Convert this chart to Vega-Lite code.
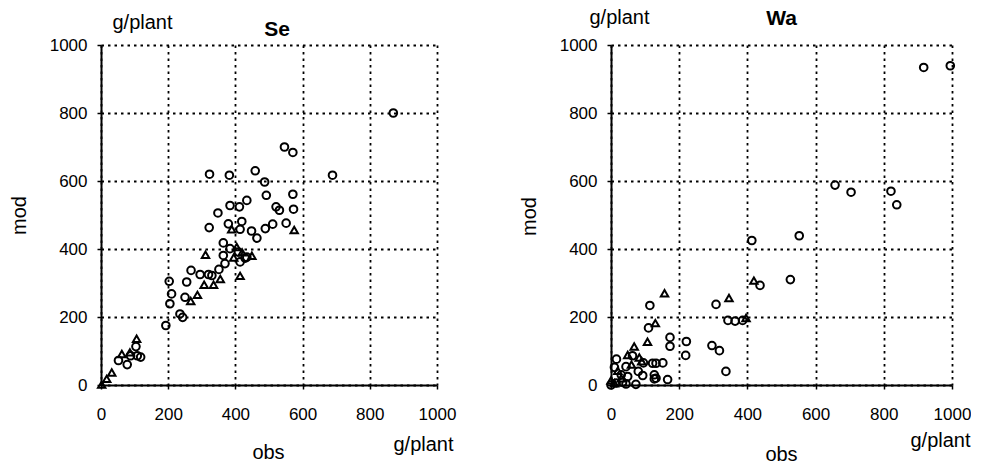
{
  "$schema": "https://vega.github.io/schema/vega-lite/v6.json",
  "padding": {"left": 9, "top": 7, "right": 0, "bottom": 0},
  "background": "white",
  "config": {
    "view": {"stroke": null},
    "font": "Liberation Sans",
    "axis": {
      "labelFont": "Liberation Sans", "labelFontSize": 17, "labelColor": "black",
      "labelFlush": false, "labelOverlap": false, "format": "d",
      "titleFont": "Liberation Sans", "titleFontSize": 20, "titleFontWeight": "normal", "titleColor": "black",
      "domainColor": "black", "domainWidth": 2,
      "tickColor": "black", "tickWidth": 1.5, "tickSize": 4,
      "gridColor": "black", "gridOpacity": 1, "gridWidth": 1.8, "gridDash": [2.5, 4]
    }
  },
  "datasets": {
    "pts": [
      {"panel":"Se","type":"c","obs":870,"mod":800},{"panel":"Se","type":"c","obs":546,"mod":700},{"panel":"Se","type":"c","obs":571,"mod":684},
      {"panel":"Se","type":"c","obs":323,"mod":620},{"panel":"Se","type":"c","obs":382,"mod":617},{"panel":"Se","type":"c","obs":459,"mod":630},
      {"panel":"Se","type":"c","obs":487,"mod":597},{"panel":"Se","type":"c","obs":689,"mod":617},{"panel":"Se","type":"c","obs":492,"mod":558},
      {"panel":"Se","type":"c","obs":571,"mod":561},{"panel":"Se","type":"c","obs":348,"mod":506},{"panel":"Se","type":"c","obs":384,"mod":528},
      {"panel":"Se","type":"c","obs":412,"mod":524},{"panel":"Se","type":"c","obs":434,"mod":543},{"panel":"Se","type":"c","obs":521,"mod":524},
      {"panel":"Se","type":"c","obs":531,"mod":514},{"panel":"Se","type":"c","obs":573,"mod":517},{"panel":"Se","type":"c","obs":322,"mod":463},
      {"panel":"Se","type":"c","obs":379,"mod":474},{"panel":"Se","type":"c","obs":419,"mod":481},{"panel":"Se","type":"c","obs":414,"mod":458},
      {"panel":"Se","type":"c","obs":448,"mod":453},{"panel":"Se","type":"c","obs":464,"mod":432},{"panel":"Se","type":"c","obs":489,"mod":460},
      {"panel":"Se","type":"c","obs":511,"mod":473},{"panel":"Se","type":"c","obs":551,"mod":476},{"panel":"Se","type":"c","obs":364,"mod":418},
      {"panel":"Se","type":"c","obs":384,"mod":401},{"panel":"Se","type":"c","obs":364,"mod":381},{"panel":"Se","type":"c","obs":409,"mod":391},
      {"panel":"Se","type":"c","obs":434,"mod":376},{"panel":"Se","type":"c","obs":414,"mod":362},{"panel":"Se","type":"c","obs":369,"mod":357},
      {"panel":"Se","type":"c","obs":351,"mod":340},{"panel":"Se","type":"c","obs":268,"mod":337},{"panel":"Se","type":"c","obs":295,"mod":325},
      {"panel":"Se","type":"c","obs":320,"mod":325},{"panel":"Se","type":"c","obs":330,"mod":322},{"panel":"Se","type":"c","obs":203,"mod":305},
      {"panel":"Se","type":"c","obs":210,"mod":268},{"panel":"Se","type":"c","obs":205,"mod":239},{"panel":"Se","type":"c","obs":255,"mod":303},
      {"panel":"Se","type":"c","obs":250,"mod":258},{"panel":"Se","type":"c","obs":235,"mod":209},{"panel":"Se","type":"c","obs":243,"mod":199},
      {"panel":"Se","type":"c","obs":193,"mod":175},{"panel":"Se","type":"c","obs":104,"mod":113},{"panel":"Se","type":"c","obs":108,"mod":86},
      {"panel":"Se","type":"c","obs":118,"mod":82},{"panel":"Se","type":"c","obs":78,"mod":60},{"panel":"Se","type":"c","obs":88,"mod":86},
      {"panel":"Se","type":"c","obs":52,"mod":72},{"panel":"Se","type":"c","obs":429,"mod":373},
      {"panel":"Se","type":"t","obs":575,"mod":456},{"panel":"Se","type":"t","obs":311,"mod":383},{"panel":"Se","type":"t","obs":389,"mod":458},
      {"panel":"Se","type":"t","obs":414,"mod":321},{"panel":"Se","type":"t","obs":449,"mod":380},{"panel":"Se","type":"t","obs":404,"mod":406},
      {"panel":"Se","type":"t","obs":287,"mod":265},{"panel":"Se","type":"t","obs":267,"mod":247},{"panel":"Se","type":"t","obs":307,"mod":295},
      {"panel":"Se","type":"t","obs":335,"mod":295},{"panel":"Se","type":"t","obs":355,"mod":312},{"panel":"Se","type":"t","obs":420,"mod":390},
      {"panel":"Se","type":"t","obs":395,"mod":375},{"panel":"Se","type":"t","obs":106,"mod":136},{"panel":"Se","type":"t","obs":62,"mod":91},
      {"panel":"Se","type":"t","obs":86,"mod":96},{"panel":"Se","type":"t","obs":32,"mod":37},{"panel":"Se","type":"t","obs":17,"mod":18},
      {"panel":"Se","type":"t","obs":2,"mod":1},
      {"panel":"Wa","type":"c","obs":917,"mod":934},{"panel":"Wa","type":"c","obs":995,"mod":939},{"panel":"Wa","type":"c","obs":657,"mod":588},
      {"panel":"Wa","type":"c","obs":704,"mod":567},{"panel":"Wa","type":"c","obs":821,"mod":570},{"panel":"Wa","type":"c","obs":838,"mod":530},
      {"panel":"Wa","type":"c","obs":413,"mod":425},{"panel":"Wa","type":"c","obs":552,"mod":439},{"panel":"Wa","type":"c","obs":526,"mod":310},
      {"panel":"Wa","type":"c","obs":437,"mod":293},{"panel":"Wa","type":"c","obs":308,"mod":237},{"panel":"Wa","type":"c","obs":343,"mod":190},
      {"panel":"Wa","type":"c","obs":364,"mod":188},{"panel":"Wa","type":"c","obs":386,"mod":190},{"panel":"Wa","type":"c","obs":114,"mod":234},
      {"panel":"Wa","type":"c","obs":110,"mod":168},{"panel":"Wa","type":"c","obs":173,"mod":140},{"panel":"Wa","type":"c","obs":173,"mod":114},
      {"panel":"Wa","type":"c","obs":221,"mod":128},{"panel":"Wa","type":"c","obs":219,"mod":87},{"panel":"Wa","type":"c","obs":296,"mod":116},
      {"panel":"Wa","type":"c","obs":318,"mod":101},{"panel":"Wa","type":"c","obs":337,"mod":40},{"panel":"Wa","type":"c","obs":166,"mod":16},
      {"panel":"Wa","type":"c","obs":132,"mod":20},{"panel":"Wa","type":"c","obs":152,"mod":65},{"panel":"Wa","type":"c","obs":132,"mod":64},
      {"panel":"Wa","type":"c","obs":95,"mod":65},{"panel":"Wa","type":"c","obs":93,"mod":28},{"panel":"Wa","type":"c","obs":49,"mod":25},
      {"panel":"Wa","type":"c","obs":16,"mod":76},{"panel":"Wa","type":"c","obs":44,"mod":3},{"panel":"Wa","type":"c","obs":0,"mod":0},
      {"panel":"Wa","type":"c","obs":63,"mod":86},{"panel":"Wa","type":"c","obs":122,"mod":64},{"panel":"Wa","type":"c","obs":10,"mod":52},
      {"panel":"Wa","type":"c","obs":44,"mod":54},{"panel":"Wa","type":"c","obs":127,"mod":30},{"panel":"Wa","type":"c","obs":15,"mod":6},
      {"panel":"Wa","type":"c","obs":73,"mod":2},{"panel":"Wa","type":"c","obs":34,"mod":8},{"panel":"Wa","type":"c","obs":127,"mod":18},
      {"panel":"Wa","type":"c","obs":80,"mod":40},{"panel":"Wa","type":"c","obs":30,"mod":30},
      {"panel":"Wa","type":"t","obs":157,"mod":270},{"panel":"Wa","type":"t","obs":346,"mod":256},{"panel":"Wa","type":"t","obs":419,"mod":307},
      {"panel":"Wa","type":"t","obs":130,"mod":182},{"panel":"Wa","type":"t","obs":107,"mod":127},{"panel":"Wa","type":"t","obs":68,"mod":113},
      {"panel":"Wa","type":"t","obs":49,"mod":88},{"panel":"Wa","type":"t","obs":83,"mod":81},{"panel":"Wa","type":"t","obs":20,"mod":42},
      {"panel":"Wa","type":"t","obs":0,"mod":13},{"panel":"Wa","type":"t","obs":396,"mod":197},{"panel":"Wa","type":"t","obs":60,"mod":60},
      {"panel":"Wa","type":"t","obs":30,"mod":20},{"panel":"Wa","type":"t","obs":10,"mod":5},{"panel":"Wa","type":"t","obs":90,"mod":70}
    ]
  },
  "spacing": 63,
  "hconcat": [
    {
      "width": 336, "height": 340,
      "data": {"name": "pts"},
      "transform": [{"filter": "datum.panel === 'Se'"}],
      "title": {"text": "Se", "font": "Liberation Sans", "fontSize": 21, "fontWeight": "bold", "color": "black", "anchor": "middle", "frame": "group", "offset": 0, "baseline": "alphabetic", "dy": 45, "dx": 8},
      "resolve": {"axis": {"x": "independent", "y": "independent"}},
      "layer": [
        {
          "transform": [{"filter": "datum.type === 'c'"}],
          "mark": {"type": "point", "shape": "circle", "filled": false, "color": "black", "strokeWidth": 2, "size": 58, "opacity": 1},
          "encoding": {
            "x": {"field": "obs", "type": "quantitative", "scale": {"domain": [0, 1000], "nice": false},
                  "axis": {"orient": "bottom", "values": [0,200,400,600,800,1000], "title": "obs", "labelPadding": 17, "titleX": 167, "titleY": 73, "titleBaseline": "alphabetic", "titleAlign": "center"}},
            "y": {"field": "mod", "type": "quantitative", "scale": {"domain": [0, 1000], "nice": false},
                  "axis": {"orient": "left", "values": [0,200,400,600,800,1000], "title": "mod", "labelPadding": 10, "titleX": -76, "titleY": 170, "titleBaseline": "alphabetic", "titleAlign": "center", "titleAngle": 270}}
          }
        },
        {
          "transform": [{"filter": "datum.type === 't'"}],
          "mark": {"type": "point", "shape": "triangle-up", "filled": false, "color": "black", "strokeWidth": 2, "size": 55, "opacity": 1},
          "encoding": {
            "x": {"field": "obs", "type": "quantitative", "scale": {"domain": [0, 1000], "nice": false},
                  "axis": {"orient": "bottom", "title": "g/plant", "grid": false, "domain": false, "ticks": false, "labels": false, "titleX": 322, "titleY": 65, "titleBaseline": "alphabetic", "titleAlign": "center"}},
            "y": {"field": "mod", "type": "quantitative", "scale": {"domain": [0, 1000], "nice": false},
                  "axis": {"orient": "left", "title": "g/plant", "grid": false, "domain": false, "ticks": false, "labels": false, "titleX": 41, "titleY": -17, "titleBaseline": "alphabetic", "titleAlign": "center", "titleAngle": 0}}
          }
        }
      ]
    },
    {
      "width": 341, "height": 340,
      "data": {"name": "pts"},
      "transform": [{"filter": "datum.panel === 'Wa'"}],
      "title": {"text": "Wa", "font": "Liberation Sans", "fontSize": 21, "fontWeight": "bold", "color": "black", "anchor": "middle", "frame": "group", "offset": 0, "baseline": "alphabetic", "dy": 39},
      "resolve": {"axis": {"x": "independent", "y": "independent"}},
      "layer": [
        {
          "transform": [{"filter": "datum.type === 'c'"}],
          "mark": {"type": "point", "shape": "circle", "filled": false, "color": "black", "strokeWidth": 2, "size": 58, "opacity": 1},
          "encoding": {
            "x": {"field": "obs", "type": "quantitative", "scale": {"domain": [0, 1000], "nice": false},
                  "axis": {"orient": "bottom", "values": [0,200,400,600,800,1000], "title": "obs", "labelPadding": 17, "titleX": 170, "titleY": 75, "titleBaseline": "alphabetic", "titleAlign": "center"}},
            "y": {"field": "mod", "type": "quantitative", "scale": {"domain": [0, 1000], "nice": false},
                  "axis": {"orient": "left", "values": [0,200,400,600,800,1000], "title": "mod", "labelPadding": 10, "titleX": -76, "titleY": 171, "titleBaseline": "alphabetic", "titleAlign": "center", "titleAngle": 270}}
          }
        },
        {
          "transform": [{"filter": "datum.type === 't'"}],
          "mark": {"type": "point", "shape": "triangle-up", "filled": false, "color": "black", "strokeWidth": 2, "size": 55, "opacity": 1},
          "encoding": {
            "x": {"field": "obs", "type": "quantitative", "scale": {"domain": [0, 1000], "nice": false},
                  "axis": {"orient": "bottom", "title": "g/plant", "grid": false, "domain": false, "ticks": false, "labels": false, "titleX": 329, "titleY": 61, "titleBaseline": "alphabetic", "titleAlign": "center"}},
            "y": {"field": "mod", "type": "quantitative", "scale": {"domain": [0, 1000], "nice": false},
                  "axis": {"orient": "left", "title": "g/plant", "grid": false, "domain": false, "ticks": false, "labels": false, "titleX": 8, "titleY": -22, "titleBaseline": "alphabetic", "titleAlign": "center", "titleAngle": 0}}
          }
        }
      ]
    }
  ]
}
